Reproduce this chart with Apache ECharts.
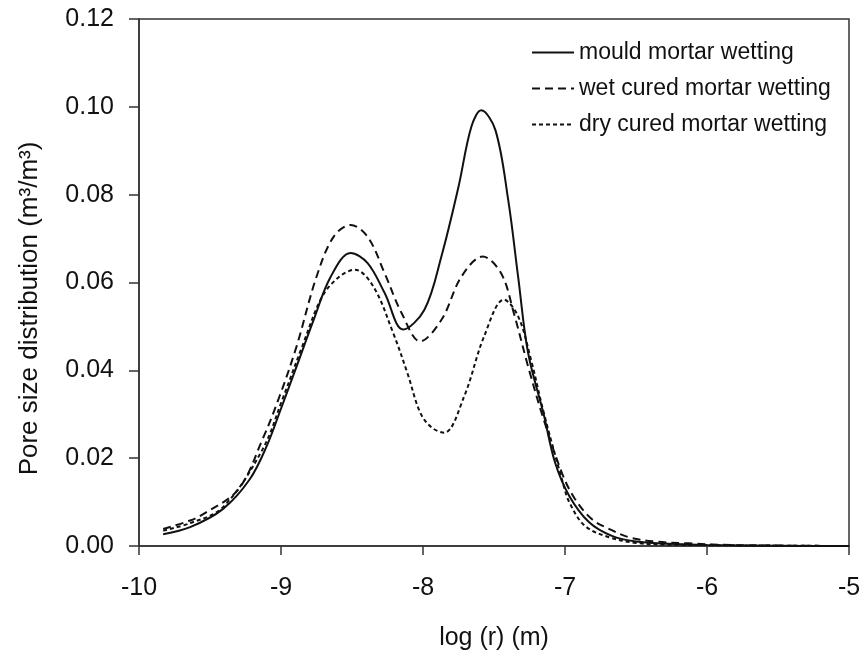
<!DOCTYPE html>
<html>
<head>
<meta charset="utf-8">
<script src="https://cdn.jsdelivr.net/npm/echarts@6/dist/echarts.min.js"></script>
<style>
  html, body { margin: 0; padding: 0; background: #fff; }
  #chart { width: 864px; height: 666px; }
</style>
</head>
<body>
<div id="chart"></div>
<script>
const seriesNames = ['mould mortar wetting', 'wet cured mortar wetting', 'dry cured mortar wetting'];
const xTicks = [-10, -9, -8, -7, -6, -5];
const yTicks = [0, 0.02, 0.04, 0.06, 0.08, 0.10, 0.12];

const mouldX = [-9.83, -9.64, -9.41, -9.22, -9.10, -9.01, -8.89, -8.77, -8.65, -8.51, -8.39, -8.27, -8.14, -7.99, -7.87, -7.75, -7.66, -7.59, -7.49, -7.40, -7.33, -7.26, -7.15, -7.07, -6.97, -6.83, -6.67, -6.50, -6.27, -6.00, -5.50, -5.00];
const mouldY = [0.0027, 0.0043, 0.0084, 0.0152, 0.0228, 0.0304, 0.0409, 0.0515, 0.0613, 0.0667, 0.0644, 0.0576, 0.0493, 0.0538, 0.0660, 0.0818, 0.0954, 0.0992, 0.0947, 0.0788, 0.0613, 0.0440, 0.0300, 0.0190, 0.0114, 0.0054, 0.0023, 0.0010, 0.0005, 0.0002, 0.00005, 0.0];

const wetX = [-9.83, -9.64, -9.53, -9.30, -9.13, -9.01, -8.89, -8.75, -8.63, -8.51, -8.39, -8.27, -8.15, -8.02, -7.87, -7.73, -7.58, -7.45, -7.36, -7.26, -7.15, -7.02, -6.93, -6.81, -6.69, -6.55, -6.36, -6.13, -5.80, -5.00];
const wetY = [0.0039, 0.0058, 0.0076, 0.0129, 0.0243, 0.0341, 0.0455, 0.0613, 0.0704, 0.0731, 0.0704, 0.0621, 0.0530, 0.0466, 0.0515, 0.0613, 0.0659, 0.0621, 0.0530, 0.0409, 0.0288, 0.0165, 0.0107, 0.0061, 0.0039, 0.0020, 0.0010, 0.0006, 0.0002, 0.0];

const dryX = [-9.83, -9.64, -9.41, -9.13, -8.99, -8.85, -8.71, -8.59, -8.48, -8.35, -8.21, -8.11, -8.02, -7.94, -7.85, -7.71, -7.57, -7.43, -7.33, -7.24, -7.15, -7.02, -6.97, -6.86, -6.69, -6.50, -6.27, -5.00];
const dryY = [0.0035, 0.0052, 0.0088, 0.0220, 0.0334, 0.0455, 0.0568, 0.0613, 0.0629, 0.0591, 0.0485, 0.0394, 0.0304, 0.0270, 0.0258, 0.0341, 0.0477, 0.0561, 0.0523, 0.0425, 0.0304, 0.0150, 0.0100, 0.0046, 0.0020, 0.0007, 0.0003, 0.0];

function pairs(xs, ys) { return xs.map((x, i) => [x, ys[i]]); }

const FONT = 'Liberation Sans, Arial, sans-serif';
const chart = echarts.init(document.getElementById('chart'), null, { renderer: 'canvas' });

function lineSeries(name, xs, ys, type) {
  return {
    name: name,
    type: 'line',
    data: pairs(xs, ys),
    smooth: 0.35,
    showSymbol: false,
    symbol: 'none',
    lineStyle: { color: '#111', width: 2, type: type },
    itemStyle: { color: '#111' },
    emphasis: { disabled: true },
    animation: false
  };
}

chart.setOption({
  animation: false,
  backgroundColor: '#fff',
  grid: {
    left: 139, right: 15, top: 19, bottom: 120,
    show: true, borderColor: '#333', borderWidth: 1.5, backgroundColor: 'transparent'
  },
  legend: {
    orient: 'vertical',
    left: 531,
    top: 41,
    padding: 0,
    itemWidth: 42,
    itemHeight: 14,
    itemGap: 13,
    itemStyle: { opacity: 0 },
    textStyle: { fontFamily: FONT, fontSize: 23, color: '#111' },
    data: seriesNames
  },
  xAxis: {
    type: 'value',
    min: -10, max: -5, interval: 1,
    name: 'log (r) (m)',
    nameLocation: 'middle',
    nameGap: 80,
    nameTextStyle: { fontFamily: FONT, fontSize: 25, color: '#111' },
    axisLine: { show: true, onZero: false, lineStyle: { color: '#333', width: 1.5 } },
    axisTick: { show: true, inside: false, length: 9, lineStyle: { color: '#333', width: 1.5 } },
    axisLabel: { fontFamily: FONT, fontSize: 25, color: '#111', margin: 30, formatter: v => xTicks.includes(v) ? String(v) : '' },
    splitLine: { show: false }
  },
  yAxis: {
    type: 'value',
    min: 0, max: 0.12, interval: 0.02,
    name: 'Pore size distribution (m\u00B3/m\u00B3)',
    nameLocation: 'middle',
    nameGap: 96,
    nameRotate: 90,
    nameTextStyle: { fontFamily: FONT, fontSize: 26, color: '#111', padding: [0, 52, 0, 0] },
    axisLine: { show: true, lineStyle: { color: '#333', width: 1.5 } },
    axisTick: { show: true, inside: false, length: 10, lineStyle: { color: '#333', width: 1.5 } },
    axisLabel: { fontFamily: FONT, fontSize: 25, color: '#111', margin: 25, formatter: v => v.toFixed(2) },
    splitLine: { show: false }
  },
  series: [
    lineSeries(seriesNames[0], mouldX, mouldY, 'solid'),
    lineSeries(seriesNames[1], wetX, wetY, [8, 5]),
    lineSeries(seriesNames[2], dryX, dryY, [4, 3])
  ]
});
</script>
</body>
</html>
